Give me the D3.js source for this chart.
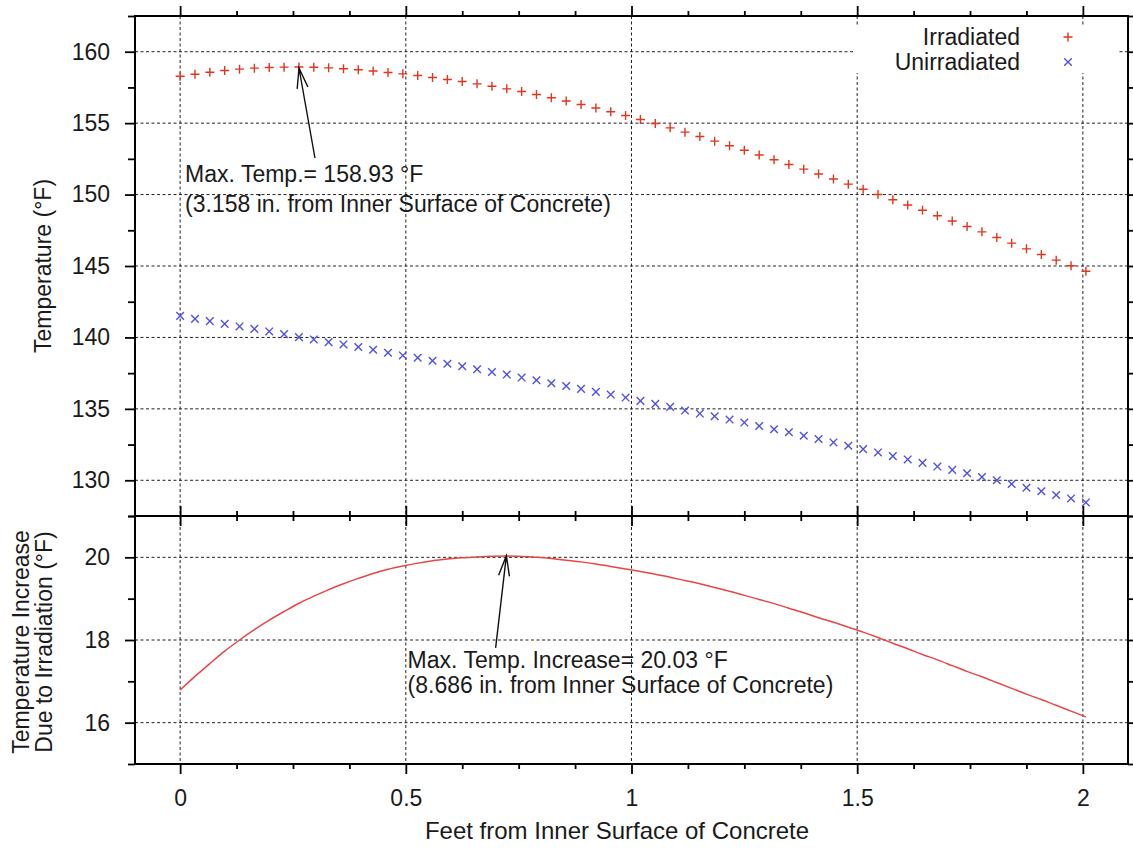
<!DOCTYPE html>
<html><head><meta charset="utf-8">
<script src="https://cdn.jsdelivr.net/npm/d3@7"></script>
<style>
body{margin:0;background:#fff}
svg text{font-family:"Liberation Sans",Arial,Helvetica,sans-serif;fill:#1a1a1a}
</style>
</head><body>
<svg id="chart" width="1133" height="848"></svg>
<script>
// ---------- DATA ----------
const depthFt = [0,0.0329,0.0658,0.0987,0.1316,0.1645,0.1974,0.2303,0.2632,0.2961,
  0.3290,0.3619,0.3948,0.4276,0.4605,0.4934,0.5263,0.5592,0.5921,0.6250,
  0.6579,0.6908,0.7237,0.7566,0.7895,0.8224,0.8553,0.8882,0.9211,0.9540,
  0.9869,1.0198,1.0527,1.0856,1.1185,1.1514,1.1843,1.2172,1.2500,1.2829,
  1.3158,1.3487,1.3816,1.4145,1.4474,1.4803,1.5132,1.5461,1.5790,1.6119,
  1.6448,1.6777,1.7106,1.7435,1.7764,1.8093,1.8422,1.8751,1.9080,1.9409,
  1.9738,2.0067];
const irradiated = [158.28,158.42,158.56,158.68,158.78,158.85,158.90,158.92,158.93,158.91,
  158.87,158.81,158.74,158.65,158.55,158.45,158.33,158.20,158.06,157.91,
  157.75,157.58,157.40,157.21,157.00,156.78,156.55,156.31,156.06,155.80,
  155.53,155.25,154.97,154.67,154.37,154.06,153.74,153.42,153.10,152.77,
  152.44,152.11,151.78,151.44,151.09,150.73,150.37,150.01,149.64,149.27,
  148.90,148.52,148.15,147.77,147.39,146.99,146.60,146.20,145.80,145.41,
  145.02,144.63];
const unirradiated = [141.51,141.30,141.14,140.95,140.77,140.60,140.42,140.23,140.02,139.86,
  139.67,139.51,139.33,139.14,138.93,138.74,138.58,138.37,138.16,137.98,
  137.77,137.58,137.40,137.19,137.00,136.79,136.60,136.40,136.19,136.00,
  135.79,135.56,135.35,135.14,134.88,134.67,134.48,134.25,134.04,133.80,
  133.57,133.36,133.12,132.89,132.65,132.42,132.18,131.95,131.69,131.46,
  131.22,130.96,130.73,130.49,130.23,130.00,129.74,129.48,129.23,128.97,
  128.73,128.45];
const increase = [16.79,17.12,17.43,17.73,18.00,18.25,18.48,18.69,18.89,19.06,
  19.22,19.36,19.49,19.61,19.71,19.79,19.86,19.92,19.96,19.99,
  20.01,20.025,20.03,20.02,20.00,19.97,19.93,19.89,19.84,19.78,
  19.72,19.66,19.59,19.52,19.44,19.36,19.27,19.18,19.08,18.98,
  18.88,18.77,18.66,18.54,18.43,18.31,18.19,18.06,17.92,17.79,
  17.65,17.52,17.38,17.24,17.11,16.97,16.83,16.69,16.56,16.42,
  16.28,16.14];

const xMajorTicks = [0, 0.5, 1, 1.5, 2];
const xMinorTicks = [0.125,0.25,0.375,0.625,0.75,0.875,1.125,1.25,1.375,1.625,1.75,1.875];
const topMajorTicks = [130,135,140,145,150,155,160];
const topMinorTicks = [127.5,132.5,137.5,142.5,147.5,152.5,157.5,162.5];
const botMajorTicks = [16,18,20];
const botMinorTicks = [15,17,19,21];
const seriesNames = ["Irradiated","Unirradiated"];
const xTitle = "Feet from Inner Surface of Concrete";
const topYTitle = "Temperature (°F)";
const botYTitle = ["Temperature Increase","Due to Irradiation (°F)"];
const topNote = {lines:["Max. Temp.= 158.93 °F","(3.158 in. from Inner Surface of Concrete)"],
  tx:0.011, ty:150.9, tail:[0.2987,152.56], tip:[0.2633,158.86], gap:30};
const botNote = {lines:["Max. Temp. Increase= 20.03 °F","(8.686 in. from Inner Surface of Concrete)"],
  tx:0.504, ty:17.32, tail:[0.699,17.81], tip:[0.7228,20.04], gap:25};

// ---------- LAYOUT ----------
const L = 135, R = 1128, T1 = 16, B1 = 516, T2 = 516, B2 = 764;
const FS = 23;
const red = "#e2361e", blue = "#5050e2", lineRed = "#e84646";

const svg = d3.select("#chart");
svg.append("rect").attr("width",1133).attr("height",848).attr("fill","#fff");

const x = d3.scaleLinear().domain([-0.1, 2.1]).range([L, R]);
const yTop = d3.scaleLinear().domain([127.5, 162.5]).range([B1, T1]);
const yBot = d3.scaleLinear().domain([15, 21]).range([B2, T2]);

function grid(g, yScale, yTicks, top, bottom) {
  g.selectAll(".gx").data(xMajorTicks).join("line")
    .attr("x1", d=>x(d)).attr("x2", d=>x(d)).attr("y1", top).attr("y2", bottom);
  g.selectAll(".gy").data(yTicks).join("line").attr("class","gy")
    .attr("x1", L).attr("x2", R).attr("y1", d=>yScale(d)).attr("y2", d=>yScale(d));
  g.selectAll("line").attr("stroke","#222").attr("stroke-width",1).attr("stroke-dasharray","3,2.5");
}
svg.append("g").call(g=>grid(g, yTop, topMajorTicks, T1, B1));
svg.append("g").call(g=>grid(g, yBot, botMajorTicks, T2, B2));

// legend background (covers grid)
svg.append("rect").attr("x",855).attr("y",27).attr("width",262).attr("height",46).attr("fill","#fff");

function styleAxis(g) {
  g.select(".domain").remove();
  g.selectAll(".tick line").attr("stroke","#000").attr("stroke-width",1.8);
  g.selectAll(".tick text").attr("font-size",FS).attr("fill","#1a1a1a")
    .style("font-family",'"Liberation Sans",Arial,Helvetica,sans-serif');
}
function axes(yScale, major, minor, top, bottom, showX) {
  svg.append("g").attr("transform",`translate(${L},0)`)
    .call(d3.axisLeft(yScale).tickValues(major).tickSize(10).tickPadding(15).tickFormat(d3.format("d")))
    .call(styleAxis);
  svg.append("g").attr("transform",`translate(${L},0)`)
    .call(d3.axisLeft(yScale).tickValues(minor).tickSize(7).tickFormat(""))
    .call(styleAxis);
  svg.append("g").attr("transform",`translate(${R},0)`)
    .call(d3.axisRight(yScale).tickValues(major).tickSize(10).tickFormat(""))
    .call(styleAxis);
  svg.append("g").attr("transform",`translate(${R},0)`)
    .call(d3.axisRight(yScale).tickValues(minor).tickSize(7).tickFormat(""))
    .call(styleAxis);
  svg.append("g").attr("transform",`translate(0,${top})`)
    .call(d3.axisTop(x).tickValues(xMajorTicks).tickSize(10).tickFormat(""))
    .call(styleAxis);
  svg.append("g").attr("transform",`translate(0,${top})`)
    .call(d3.axisTop(x).tickValues(xMinorTicks).tickSize(5).tickFormat(""))
    .call(styleAxis);
  svg.append("g").attr("transform",`translate(0,${bottom})`)
    .call(d3.axisBottom(x).tickValues(xMajorTicks).tickSize(10).tickPadding(16)
      .tickFormat(showX ? (d=>String(d)) : ""))
    .call(styleAxis);
  svg.append("g").attr("transform",`translate(0,${bottom})`)
    .call(d3.axisBottom(x).tickValues(xMinorTicks).tickSize(5).tickFormat(""))
    .call(styleAxis);
  svg.append("rect").attr("x",L).attr("y",top).attr("width",R-L).attr("height",bottom-top)
    .attr("fill","none").attr("stroke","#000").attr("stroke-width",2);
}
axes(yTop, topMajorTicks, topMinorTicks, T1, B1, false);
axes(yBot, botMajorTicks, botMinorTicks, T2, B2, true);

// ---------- MARKS ----------
const plusPath = "M-4.5,0H4.5M0,-4.5V4.5";
const crossPath = "M-3.8,-3.8L3.8,3.8M-3.8,3.8L3.8,-3.8";
const gTop = svg.append("g");
gTop.selectAll(".irr").data(depthFt.map((d,i)=>[d, irradiated[i]])).join("path")
  .attr("transform", d=>`translate(${x(d[0])},${yTop(d[1])})`)
  .attr("d", plusPath).attr("stroke", red).attr("stroke-width",1.4).attr("fill","none");
gTop.selectAll(".unirr").data(depthFt.map((d,i)=>[d, unirradiated[i]])).join("path")
  .attr("class","unirr")
  .attr("transform", d=>`translate(${x(d[0])},${yTop(d[1])})`)
  .attr("d", crossPath).attr("stroke", blue).attr("stroke-width",1.4).attr("fill","none");

svg.append("path")
  .datum(depthFt.map((d,i)=>[d, increase[i]]))
  .attr("d", d3.line().x(d=>x(d[0])).y(d=>yBot(d[1])).curve(d3.curveMonotoneX))
  .attr("fill","none").attr("stroke", lineRed).attr("stroke-width",1.5);

// ---------- LEGEND ----------
const legY = [45, 70];
seriesNames.forEach((name,i)=>{
  svg.append("text").attr("x",1020).attr("y",legY[i]).attr("text-anchor","end")
    .attr("font-size",FS).text(name);
  svg.append("path").attr("transform",`translate(1068,${legY[i]-8})`)
    .attr("d", i===0 ? plusPath : crossPath)
    .attr("stroke", i===0 ? red : blue).attr("stroke-width",1.4).attr("fill","none");
});

// ---------- ANNOTATIONS ----------
function note(n, yScale) {
  const t = svg.append("text").attr("font-size",FS);
  n.lines.forEach((ln,i)=>{
    t.append("tspan").attr("x", x(n.tx)).attr("y", yScale(n.ty) + i*n.gap).text(ln);
  });
  const x0 = x(n.tail[0]), y0 = yScale(n.tail[1]), x1 = x(n.tip[0]), y1 = yScale(n.tip[1]);
  const ang = Math.atan2(y1-y0, x1-x0), hl = 21, ha = 15*Math.PI/180;
  const p = d3.path();
  p.moveTo(x0,y0); p.lineTo(x1,y1);
  p.moveTo(x1 - hl*Math.cos(ang-ha), y1 - hl*Math.sin(ang-ha)); p.lineTo(x1,y1);
  p.lineTo(x1 - hl*Math.cos(ang+ha), y1 - hl*Math.sin(ang+ha));
  svg.append("path").attr("d", p.toString()).attr("fill","none")
    .attr("stroke","#111").attr("stroke-width",1.4);
}
note(topNote, yTop);
note(botNote, yBot);

// ---------- TITLES ----------
svg.append("text").attr("x",617).attr("y",839).attr("text-anchor","middle")
  .attr("font-size",24).text(xTitle);
svg.append("text").attr("transform",`translate(51,${(T1+B1)/2}) rotate(-90)`)
  .attr("text-anchor","middle").attr("font-size",FS).text(topYTitle);
botYTitle.forEach((ln,i)=>{
  svg.append("text").attr("transform",`translate(${29+i*23},${(T2+B2)/2+2}) rotate(-90)`)
    .attr("text-anchor","middle").attr("font-size",FS).text(ln);
});
</script>
</body></html>
